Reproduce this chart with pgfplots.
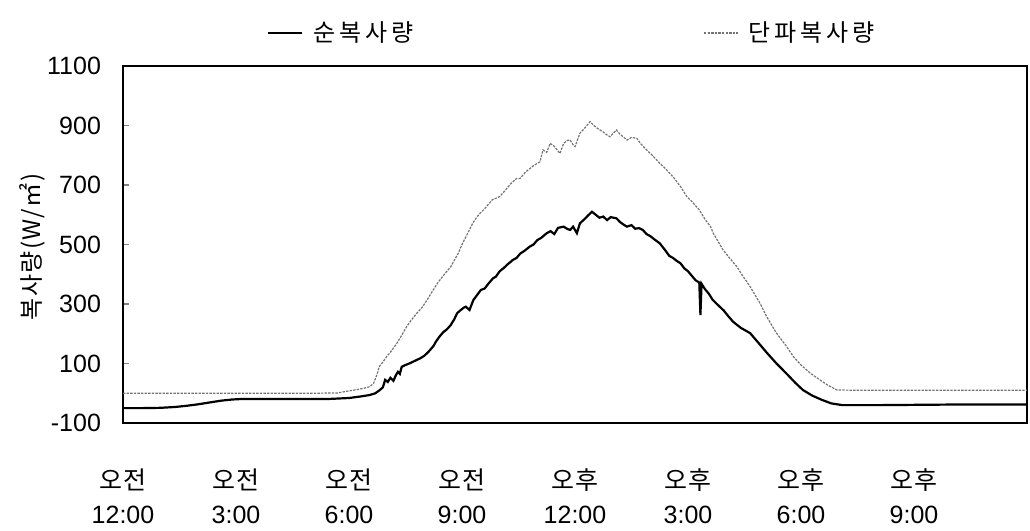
\documentclass[border=0pt]{standalone}
\usepackage{fontspec}
\setmainfont{Liberation Sans}
\newfontfamily\kr[LetterSpace=6]{Noto Sans CJK KR}
\newfontfamily\krl[LetterSpace=16]{Noto Sans CJK KR}
\usepackage{pgfplots}
\pgfplotsset{compat=1.18}
\begin{document}
\begin{tikzpicture}
\path[use as bounding box] (0,0) rectangle (515pt,265.5pt);
\begin{axis}[
  scale only axis,
  width=452pt, height=178.5pt,
  at={(61.5pt,54pt)}, anchor=south west,
  xmin=0, xmax=24, ymin=-100, ymax=1100,
  axis line style={line width=0.8pt},
  xtick={0,3,6,9,12,15,18,21},
  xticklabels={{{\kr 오전}\\12:00},{{\kr 오전}\\3:00},{{\kr 오전}\\6:00},{{\kr 오전}\\9:00},{{\kr 오후}\\12:00},{{\kr 오후}\\3:00},{{\kr 오후}\\6:00},{{\kr 오후}\\9:00}},
  xticklabel style={align=center, font=\fontsize{12.5}{17}\selectfont, yshift=-19.5pt},
  x tick style={draw=none},
  ytick={-100,100,300,500,700,900,1100},
  ytick pos=left, tick align=inside, major tick length=3pt,
  y tick style={line width=0.6pt},
  yticklabel style={font=\fontsize{12.5}{14}\selectfont, xshift=-7.5pt},
  /pgf/number format/assume math mode=true,
  /pgf/number format/1000 sep={},
  ylabel={\kr 복사량(W/㎡)},
  ylabel style={at={(axis description cs:-0.10,0.493)}, anchor=center, font=\fontsize{12}{14}\selectfont},
  legend columns=2,
  legend style={draw=none, fill=none, inner sep=0pt, at={(axis description cs:0.159,1.0924)}, anchor=west, font=\fontsize{12}{14}\selectfont\krl,
    /tikz/every odd column/.append style={column sep=3pt},
    /tikz/column 2/.style={column sep=143pt}},
]
\addplot[black, line width=1.1pt] coordinates {
(0,-50)(0.5,-50)(1.0,-49)(1.4,-46)(1.7,-42)(2.0,-37)(2.3,-31)(2.6,-25)(2.9,-21)(3.2,-19)(4.0,-19)(5.0,-19)(5.5,-19)(6.0,-16)(6.3,-11)(6.55,-6)(6.7,0)(6.82,11)(6.9,20)(6.96,45)(7.03,38)(7.1,52)(7.18,42)(7.25,62)(7.3,72)(7.35,65)(7.4,89)(7.5,95)(7.6,100)(7.7,106)(7.8,112)(7.9,118)(8.0,126)(8.1,138)(8.15,145)(8.25,160)(8.3,172)(8.4,190)(8.5,205)(8.6,215)(8.7,229)(8.8,250)(8.87,269)(8.95,278)(9.05,288)(9.1,291)(9.2,280)(9.3,313)(9.4,330)(9.5,347)(9.6,352)(9.7,368)(9.82,386)(9.9,392)(10.0,410)(10.1,420)(10.2,432)(10.35,448)(10.45,455)(10.55,470)(10.65,478)(10.8,493)(10.9,500)(11.0,515)(11.1,522)(11.25,538)(11.35,545)(11.45,535)(11.55,556)(11.7,560)(11.8,552)(11.87,549)(11.95,560)(12.05,538)(12.13,571)(12.25,585)(12.35,598)(12.45,610)(12.55,600)(12.65,590)(12.75,594)(12.85,582)(12.95,592)(13.1,588)(13.2,575)(13.3,566)(13.38,560)(13.5,565)(13.6,553)(13.7,555)(13.8,549)(13.9,535)(14.0,528)(14.1,518)(14.25,504)(14.4,480)(14.5,462)(14.6,455)(14.7,445)(14.8,437)(14.9,420)(15.0,410)(15.1,395)(15.2,380)(15.3,372)(15.33,263)(15.36,368)(15.45,350)(15.55,335)(15.65,315)(15.75,302)(15.85,290)(15.95,278)(16.05,262)(16.2,240)(16.4,220)(16.65,202)(16.9,165)(17.1,135)(17.35,100)(17.6,68)(17.85,35)(18.05,11)(18.3,-8)(18.55,-22)(18.8,-34)(19.1,-40)(20,-40)(21,-39)(22,-38)(23,-38)(24,-38)
};
\addlegendentry{순복사량}
\addplot[black!55, line width=0.6pt, dash pattern=on 1.2pt off 0.6pt] coordinates {
(0,0)(1,0)(2,0)(3,0)(4,0)(5,0)(5.7,1)(6.0,8)(6.2,12)(6.4,17)(6.55,22)(6.65,33)(6.75,65)(6.8,89)(6.9,105)(7.0,123)(7.1,138)(7.2,155)(7.27,168)(7.4,195)(7.53,224)(7.65,245)(7.8,269)(7.95,290)(8.07,313)(8.2,340)(8.35,370)(8.5,395)(8.7,425)(8.8,448)(8.9,470)(9.0,500)(9.1,525)(9.2,550)(9.3,575)(9.4,593)(9.48,605)(9.6,620)(9.7,635)(9.8,650)(10.0,661)(10.1,675)(10.2,690)(10.3,705)(10.45,722)(10.54,722)(10.7,745)(10.9,765)(11.07,778)(11.15,818)(11.25,810)(11.34,840)(11.45,830)(11.6,806)(11.7,840)(11.8,850)(11.87,851)(11.95,835)(12.0,829)(12.13,874)(12.25,890)(12.4,913)(12.5,900)(12.6,890)(12.74,879)(12.85,868)(12.93,862)(13.0,872)(13.1,885)(13.2,870)(13.3,860)(13.38,851)(13.5,860)(13.64,857)(13.75,838)(13.9,818)(14.05,800)(14.25,773)(14.4,755)(14.6,728)(14.8,695)(14.97,661)(15.1,645)(15.3,616)(15.45,585)(15.6,560)(15.67,538)(15.8,510)(15.93,482)(16.1,455)(16.3,425)(16.45,395)(16.65,358)(16.9,305)(17.1,255)(17.35,202)(17.6,160)(17.8,123)(18.0,95)(18.25,67)(18.5,45)(18.7,28)(18.95,11)(19.5,10)(20,10)(21,10)(22,10)(23,10)(24,10)
};
\addlegendentry{단파복사량}
\end{axis}
\end{tikzpicture}
\end{document}
